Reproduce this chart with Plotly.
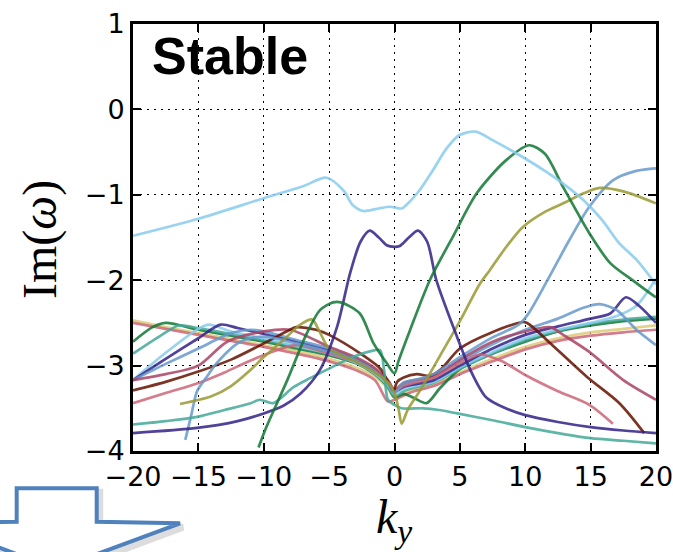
import plotly.graph_objects as go

# ---------------- data ----------------
# top light-blue branch
k_cyan_top = [-20, -15, -10, -7, -5.2, -3.9, -3.2, -2.4, -1.2, -0.35, 0.55, 0.9, 1.9, 2.95, 3.97, 4.98, 6.2, 7.5, 9.6, 11.5, 12.9, 14.5, 15.9, 17.2, 18.5, 20]
v_cyan_top = [-1.48, -1.28, -1.04, -0.90, -0.80, -0.95, -1.12, -1.19, -1.16, -1.14, -1.16, -1.12, -0.95, -0.71, -0.46, -0.30, -0.26, -0.36, -0.54, -0.72, -0.87, -1.07, -1.30, -1.57, -1.76, -2.05]

# big green branch
k_green_big = [-10.4, -9.8, -8.2, -6.7, -5.7, -4.7, -4.1, -2.65, -1.6, -0.6, 0.0, 0.3, 1.2, 2.7, 4.5, 6.3, 8.5, 10.3, 11.5, 12.9, 14.9, 16.5, 18.2, 19.7, 20]
v_green_big = [-3.96, -3.72, -3.17, -2.62, -2.35, -2.26, -2.26, -2.39, -2.74, -2.97, -3.09, -2.95, -2.58, -2.00, -1.48, -0.98, -0.60, -0.42, -0.52, -0.91, -1.45, -1.80, -2.00, -2.17, -2.20]

# olive branch
k_olive = [-16.4, -14, -12.5, -11, -10, -8.5, -7.2, -6.3, -5.8, -5, -3, -1.5, -0.5, 0, 0.3, 0.55, 1, 2, 3.5, 5, 6.5, 7.3, 8.5, 9.8, 11.5, 12.9, 14.5, 15.7, 17.5, 20]
v_olive = [-3.45, -3.36, -3.24, -3.05, -2.90, -2.70, -2.52, -2.46, -2.58, -2.80, -2.95, -3.08, -3.20, -3.32, -3.50, -3.68, -3.52, -3.28, -2.88, -2.48, -2.05, -1.88, -1.62, -1.38, -1.20, -1.10, -0.98, -0.92, -0.96, -1.10]

# indigo double-hump branch
k_indigo_low = [-20, -15.1, -12, -10, -8.5, -7.2, -5.7, -4.4, -3.4, -2.6, -1.9, -1.2, -0.6, 0, 0.4, 1.1, 1.8, 2.5, 3.2, 4.8, 5.8, 7, 8.5, 10, 12.5, 15, 17.5, 20]
v_indigo_low = [-3.79, -3.73, -3.65, -3.56, -3.47, -3.33, -3.05, -2.55, -1.92, -1.55, -1.42, -1.50, -1.59, -1.61, -1.60, -1.50, -1.42, -1.55, -2.00, -2.67, -3.05, -3.37, -3.50, -3.58, -3.66, -3.72, -3.76, -3.79]

# teal lower branch
k_teal_low = [-20, -17.5, -15.1, -13, -11, -10.3, -9.3, -7.7, -6.5, -5.2, -3.2, -1.8, -1.1, -0.8, -0.5, 0, 0.55, 2.2, 3.4, 4.8, 7.5, 10, 12.5, 15, 17.5, 20]
v_teal_low = [-3.69, -3.65, -3.60, -3.52, -3.44, -3.40, -3.44, -3.25, -3.15, -3.05, -2.90, -2.83, -2.82, -3.05, -3.40, -3.46, -3.50, -3.50, -3.52, -3.56, -3.64, -3.72, -3.79, -3.85, -3.88, -3.91]

# brown branch
k_brown = [-20, -17.5, -15, -12.5, -10, -8, -7.5, -6, -5, -2.6, -1, -0.1, 0.2, 0.7, 1.7, 2.7, 3.5, 5, 7.3, 9.96, 10.5, 12, 14.7, 17.2, 19.1]
v_brown = [-3.29, -3.19, -3.07, -2.93, -2.74, -2.58, -2.55, -2.58, -2.64, -2.86, -3.05, -3.30, -3.19, -3.14, -3.10, -3.12, -3.05, -2.80, -2.62, -2.49, -2.54, -2.75, -3.13, -3.44, -3.79]

# rose branch starting low on the left
k_rose_low = [-20, -17.5, -15.1, -13, -11, -9, -7.5, -5, -3, -1.5, -0.5, 0, 0.7, 1.5, 3, 5, 6.5, 8.1, 10, 12.5, 14.9, 16.7]
v_rose_low = [-3.44, -3.32, -3.21, -3.08, -2.94, -2.82, -2.76, -2.86, -2.95, -3.07, -3.20, -3.30, -3.24, -3.20, -3.14, -2.97, -2.87, -2.94, -3.11, -3.30, -3.46, -3.68]

# steel-blue branch rising on the right
k_blue_up = [-16, -15.5, -15.1, -14.3, -13.6, -11.8, -10, -7.5, -5, -3, -1.5, -0.5, 0, 0.7, 1.5, 3, 5, 7.5, 9.5, 10.2, 11.7, 13.3, 14.9, 16.7, 18.5, 20]
v_blue_up = [-3.87, -3.55, -3.30, -3.12, -2.97, -2.72, -2.66, -2.74, -2.84, -2.94, -3.07, -3.21, -3.32, -3.20, -3.17, -3.10, -2.90, -2.67, -2.52, -2.40, -2.00, -1.55, -1.14, -0.83, -0.72, -0.69]

# mauve branch falling on the right
k_mauve = [-20, -17.5, -15, -12.8, -10, -8, -5, -3, -1.5, -0.5, 0, 0.7, 1.5, 3, 5, 7.5, 10, 11.9, 13, 14.9, 17.5, 20]
v_mauve = [-3.17, -3.10, -3.00, -2.72, -2.60, -2.58, -2.78, -2.90, -3.03, -3.17, -3.28, -3.20, -3.17, -3.13, -2.93, -2.72, -2.60, -2.55, -2.65, -2.84, -3.17, -3.40]

# bundle members
k_bundle = [-20, -17.5, -15, -12.5, -10, -7.5, -5, -3, -1.5, -0.5, 0, 0.7, 1.5, 3, 5, 7.5, 10, 12.5, 15, 17.5, 20]
v_sand = [-2.47, -2.55, -2.62, -2.69, -2.76, -2.83, -2.92, -3.02, -3.13, -3.27, -3.38, -3.33, -3.28, -3.22, -3.08, -2.92, -2.78, -2.68, -2.61, -2.57, -2.53]
v_rose = [-2.50, -2.57, -2.64, -2.71, -2.78, -2.86, -2.95, -3.05, -3.17, -3.42, -3.40, -3.35, -3.30, -3.24, -3.10, -2.95, -2.81, -2.71, -2.65, -2.61, -2.58]

k_green2 = [-20, -18.5, -17.5, -15, -12.5, -10, -7.5, -5, -3, -1.5, -0.5, 0, 0.7, 1.5, 2.45, 3.5, 5, 7.5, 10, 12.5, 15, 17.5, 20]
v_green2 = [-2.72, -2.55, -2.50, -2.58, -2.65, -2.72, -2.80, -2.88, -2.97, -3.10, -3.25, -3.37, -3.33, -3.38, -3.44, -3.26, -3.04, -2.86, -2.72, -2.60, -2.53, -2.48, -2.45]

k_teal2 = [-20, -18, -16.5, -15, -12.5, -10, -7.5, -5, -3, -1.5, -0.5, 0, 0.7, 1.5, 3, 5, 7.5, 10, 12.5, 15, 17.5, 20]
v_teal2 = [-2.86, -2.66, -2.53, -2.56, -2.63, -2.70, -2.78, -2.86, -2.96, -3.09, -3.24, -3.36, -3.30, -3.26, -3.20, -3.04, -2.86, -2.70, -2.59, -2.51, -2.46, -2.43]

k_cyan2 = [-20, -17.5, -15, -14.2, -12.5, -10, -7.5, -5, -3, -1.5, -0.5, 0, 0.7, 1.5, 3, 5, 7.5, 10, 12.5, 15, 17, 18.5, 20]
v_cyan2 = [-3.17, -2.85, -2.57, -2.52, -2.60, -2.68, -2.77, -2.86, -2.96, -3.09, -3.23, -3.33, -3.27, -3.24, -3.19, -3.02, -2.84, -2.68, -2.58, -2.50, -2.42, -2.30, -1.98]

k_indigo2 = [-20, -17.5, -15, -13.3, -12, -10, -7.5, -5, -3, -1.5, -0.5, 0, 0.7, 1.5, 3, 5, 7.5, 10, 12.5, 15, 16.5, 17.7, 18.7, 20]
v_indigo2 = [-3.17, -2.92, -2.68, -2.52, -2.56, -2.63, -2.72, -2.82, -2.93, -3.06, -3.20, -3.30, -3.25, -3.22, -3.17, -3.00, -2.80, -2.64, -2.54, -2.45, -2.39, -2.20, -2.30, -2.50]

k_blue2 = [-20, -17.5, -15, -12.5, -11, -10, -7.5, -5, -3, -1.5, -0.5, 0, 0.7, 1.5, 3, 5, 7.5, 10, 12.5, 14.5, 15.7, 17, 18.5, 20]
v_blue2 = [-3.17, -2.98, -2.80, -2.62, -2.58, -2.60, -2.70, -2.80, -2.92, -3.05, -3.19, -3.30, -3.22, -3.18, -3.12, -2.95, -2.75, -2.58, -2.45, -2.32, -2.28, -2.35, -2.58, -2.76]

# axis ticks
x_ticks = [-20, -15, -10, -5, 0, 5, 10, 15, 20]
y_ticks = [1, 0, -1, -2, -3, -4]

# ---------------- colours (Tol palette) ----------------
C_CYAN = "#88CCEE"
C_GREEN = "#117733"
C_OLIVE = "#999933"
C_INDIGO = "#332288"
C_TEAL = "#44AA99"
C_BROWN = "#661100"
C_ROSE = "#CC6677"
C_MAUVE = "#AA4466"
C_BLUE = "#6699CC"
C_SAND = "#DDCC77"

series = [
    (k_bundle, v_sand, C_SAND),
    (k_bundle, v_rose, C_ROSE),
    (k_green2, v_green2, C_GREEN),
    (k_teal2, v_teal2, C_TEAL),
    (k_cyan2, v_cyan2, C_CYAN),
    (k_indigo2, v_indigo2, C_INDIGO),
    (k_blue2, v_blue2, C_BLUE),
    (k_mauve, v_mauve, C_MAUVE),
    (k_rose_low, v_rose_low, C_ROSE),
    (k_brown, v_brown, C_BROWN),
    (k_blue_up, v_blue_up, C_BLUE),
    (k_teal_low, v_teal_low, C_TEAL),
    (k_olive, v_olive, C_OLIVE),
    (k_indigo_low, v_indigo_low, C_INDIGO),
    (k_green_big, v_green_big, C_GREEN),
    (k_cyan_top, v_cyan_top, C_CYAN),
]

fig = go.Figure()
for ks, vs, col in series:
    fig.add_trace(go.Scatter(
        x=ks, y=vs, mode="lines",
        line=dict(color=col, width=2.7, shape="spline", smoothing=0.8),
        opacity=0.85, hoverinfo="skip",
    ))

# ---------------- layout ----------------
W, H = 673, 552
L, R, T, B = 133, 17, 24, 101
PW, PH = W - L - R, H - T - B


def px2paper(px, py):
    return (px - L) / PW, (H - B - py) / PH


axis_common = dict(
    ticks="inside", ticklen=8, tickwidth=1.5, tickcolor="black",
    showline=True, linewidth=3, linecolor="black", mirror="ticks",
    showgrid=True, gridcolor="black", gridwidth=1, griddash="2px,5px",
    zeroline=False, ticklabeloverflow="allow", automargin=False,
    tickfont=dict(family="DejaVu Sans", size=27, color="black"),
)

fig.update_layout(
    width=W, height=H,
    margin=dict(l=L, r=R, t=T, b=B, pad=0, autoexpand=False),
    plot_bgcolor="white", paper_bgcolor="white",
    showlegend=False,
    xaxis=dict(range=[-20, 20], tickvals=x_ticks, ticklabelstandoff=0, **axis_common),
    yaxis=dict(range=[-4, 1], tickvals=y_ticks, ticklabelstandoff=0, **axis_common),
)

# "Stable" label
sx, sy = px2paper(150, 56)
fig.add_annotation(
    text="<b>Stable</b>", x=sx, y=sy, xref="paper", yref="paper",
    xanchor="left", yanchor="middle", showarrow=False,
    font=dict(family="Liberation Sans", size=52, color="black"),
)

# axis titles
yx, yy = px2paper(40, 240)
fig.add_annotation(
    text="Im(<i>ω</i>)", x=yx, y=yy, xref="paper", yref="paper",
    xanchor="center", yanchor="middle", textangle=-90, showarrow=False,
    font=dict(family="Liberation Serif", size=48, color="black"),
)
xx, xy = px2paper(394, 520)
fig.add_annotation(
    text="<i>k</i><sub><i>y</i></sub>", x=xx, y=xy, xref="paper", yref="paper",
    xanchor="center", yanchor="middle", showarrow=False,
    font=dict(family="Liberation Serif", size=48, color="black"),
)

# decorative outlined arrow (bottom-left)
arrow_px = [(16.7, 488.3), (96.7, 488.3), (96.7, 521.7), (180, 523.3),
            (56.7, 569), (-66.6, 523.3), (16.7, 521.7)]


def path_from(points, dx=0, dy=0):
    pts = [px2paper(x + dx, y + dy) for x, y in points]
    return "M " + " L ".join(f"{a:.4f},{b:.4f}" for a, b in pts) + " Z"


fig.add_shape(type="path", path=path_from(arrow_px, 3, 4), xref="paper", yref="paper",
              line=dict(color="rgba(120,120,120,0.25)", width=7), layer="above")
fig.add_shape(type="path", path=path_from(arrow_px), xref="paper", yref="paper",
              line=dict(color="#4F81BD", width=4), fillcolor="white", layer="above")

fig.write_html(
    "out.html",
    config={"displayModeBar": False},
    post_script="document.body.style.margin='0';document.body.style.overflow='hidden';",
)
